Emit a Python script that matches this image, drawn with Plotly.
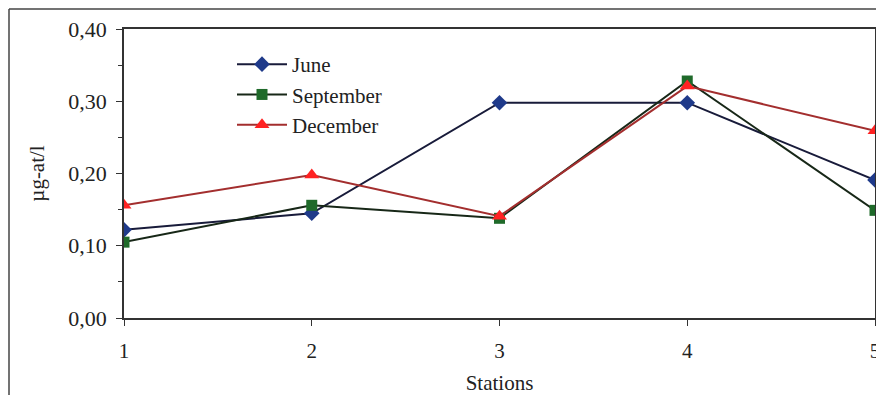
import plotly.graph_objects as go

stations = [1, 2, 3, 4, 5]
june = [0.122, 0.145, 0.298, 0.298, 0.191]
september = [0.105, 0.156, 0.138, 0.328, 0.149]
december = [0.156, 0.198, 0.141, 0.321, 0.259]
y_ticks = [0.0, 0.1, 0.2, 0.3, 0.4]
y_tick_labels = ["0,00", "0,10", "0,20", "0,30", "0,40"]

FONT = "Liberation Serif"

fig = go.Figure()
fig.add_trace(go.Scatter(
    x=stations, y=june, name="June", mode="lines+markers",
    line=dict(color="#181b3a", width=2),
    marker=dict(symbol="diamond", size=12, color="#1f3a8a"),
))
fig.add_trace(go.Scatter(
    x=stations, y=september, name="September", mode="lines+markers",
    line=dict(color="#172717", width=2),
    marker=dict(symbol="square", size=11, color="#1f6a2a"),
))
fig.add_trace(go.Scatter(
    x=stations, y=december, name="December", mode="lines+markers",
    line=dict(color="#a32e2e", width=2),
    marker=dict(symbol="triangle-up", size=13, color="#ff2222"),
))

W, H = 876, 395
ml, mr, mt, mb = 124, 1, 29, 77
pw = W - ml - mr
ph = H - mt - mb

def px_x(x):
    return (x - ml) / pw

def px_y(y):
    return (H - mb - y) / ph

fig.update_layout(
    width=W, height=H,
    margin=dict(l=ml, r=mr, t=mt, b=mb, autoexpand=False),
    paper_bgcolor="white", plot_bgcolor="white",
    font=dict(family=FONT, size=22, color="#222"),
    showlegend=True,
    legend=dict(
        x=px_x(232), y=px_y(44), xanchor="left", yanchor="top",
        bgcolor="rgba(0,0,0,0)", font=dict(family=FONT, size=21, color="#222"),
        tracegroupgap=0, itemwidth=50,
    ),
    shapes=[
        dict(type="line", xref="paper", yref="paper",
             x0=px_x(9), x1=px_x(W), y0=px_y(9), y1=px_y(9),
             line=dict(color="#444", width=1.5)),
        dict(type="line", xref="paper", yref="paper",
             x0=px_x(9), x1=px_x(9), y0=px_y(9), y1=px_y(H),
             line=dict(color="#444", width=1.5)),
    ],
)

fig.update_xaxes(
    range=[1, 5], tickvals=stations, ticktext=[str(s) for s in stations],
    automargin=False,
    showgrid=False, zeroline=False,
    showline=True, linecolor="#333", linewidth=1.5, mirror=True,
    ticks="outside", ticklen=6, tickcolor="#333",
    ticklabeloverflow="allow", ticklabelstandoff=7,
    tickfont=dict(family=FONT, size=21),
    title=dict(text="Stations", font=dict(family=FONT, size=21), standoff=14),
)
fig.update_yaxes(
    range=[0, 0.4], tickvals=y_ticks, ticktext=y_tick_labels,
    automargin=False,
    showgrid=False, zeroline=False,
    showline=True, linecolor="#333", linewidth=1.5, mirror=True,
    ticks="outside", ticklen=6, tickcolor="#333",
    ticklabelstandoff=5,
    minor=dict(dtick=0.05, ticks="outside", ticklen=4, tickcolor="#333"),
    tickfont=dict(family=FONT, size=22),
    title=dict(text="µg-at/l", font=dict(family=FONT, size=21), standoff=18),
)

fig.write_html("out.html")
